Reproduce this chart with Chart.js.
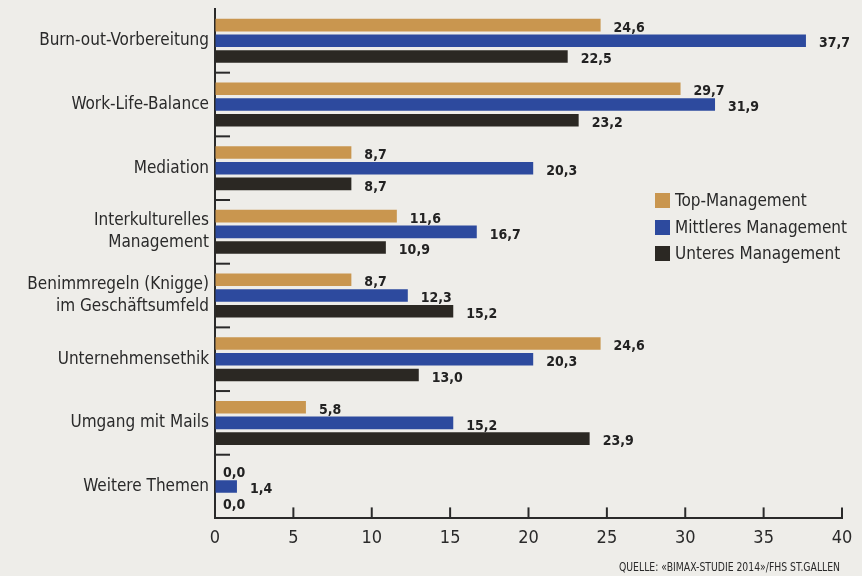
<!DOCTYPE html>
<html>
<head>
<meta charset="utf-8">
<script src="https://cdn.jsdelivr.net/npm/chart.js@4.4.1/dist/chart.umd.min.js"></script>
<style>
  html, body { margin: 0; padding: 0; background: #eeede9; }
  #wrap { position: relative; width: 862px; height: 576px; }
  #legend { position: absolute; left: 655px; top: 187px; font-family: "Liberation Sans Narrow", "DejaVu Sans Condensed", sans-serif; font-size: 17px; color: #2a2a2a; }
  #legend div { height: 26.5px; line-height: 26.5px; white-space: nowrap; }
  #legend span { display: inline-block; width: 15px; height: 15px; margin-right: 5px; vertical-align: -2px; }
  #source { position: absolute; right: 22px; top: 560px; font-family: "Liberation Sans Narrow", "DejaVu Sans Condensed", sans-serif; font-size: 12px; color: #2a2a2a; white-space: nowrap; transform: scaleX(0.86); transform-origin: right center; }
</style>
</head>
<body>
<div id="wrap">
  <canvas id="chart" width="862" height="576"></canvas>
  <div id="legend"></div>
  <div id="source">QUELLE: «BIMAX-STUDIE 2014»/FHS ST.GALLEN</div>
</div>
<script>
// data
const categories = [
  'Burn-out-Vorbereitung',
  'Work-Life-Balance',
  'Mediation',
  ['Interkulturelles', 'Management'],
  ['Benimmregeln (Knigge)', 'im Geschäftsumfeld'],
  'Unternehmensethik',
  'Umgang mit Mails',
  'Weitere Themen',
];
const seriesNames = ['Top-Management', 'Mittleres Management', 'Unteres Management'];
const topMgmt = [24.6, 29.7, 8.7, 11.6, 8.7, 24.6, 5.8, 0.0];
const midMgmt = [37.7, 31.9, 20.3, 16.7, 12.3, 20.3, 15.2, 1.4];
const lowMgmt = [22.5, 23.2, 8.7, 10.9, 15.2, 13.0, 23.9, 0.0];
const xTicks = [0, 5, 10, 15, 20, 25, 30, 35, 40];

const colors = ['#c9964f', '#2d4a9e', '#2b2823'];
const FONT = '"Liberation Sans Narrow", "DejaVu Sans Condensed", sans-serif';

const fmt = (v) => v.toFixed(1).replace('.', ',');

// value labels after bar ends
const valueLabels = {
  id: 'valueLabels',
  afterDatasetsDraw(chart) {
    const ctx = chart.ctx;
    ctx.save();
    ctx.font = 'bold 14px ' + FONT;
    ctx.fillStyle = '#222';
    ctx.textBaseline = 'middle';
    chart.data.datasets.forEach((ds, i) => {
      chart.getDatasetMeta(i).data.forEach((bar, j) => {
        const gap = ds.data[j] === 0 ? 8 : 13;
        ctx.fillText(fmt(ds.data[j]), bar.x + gap, bar.y + 3);
      });
    });
    ctx.restore();
  },
};

// short inner ticks on both axes
const innerTicks = {
  id: 'innerTicks',
  afterDraw(chart) {
    const ctx = chart.ctx;
    const x = chart.scales.x;
    const y = chart.scales.y;
    ctx.save();
    ctx.strokeStyle = '#2a2a2a';
    ctx.lineWidth = 2;
    for (let i = 1; i < categories.length; i++) {
      const py = (y.getPixelForTick(i - 1) + y.getPixelForTick(i)) / 2;
      ctx.beginPath();
      ctx.moveTo(x.left, py);
      ctx.lineTo(x.left + 15, py);
      ctx.stroke();
    }
    xTicks.forEach((t) => {
      if (t === 0) return;
      const px = x.getPixelForValue(t);
      ctx.beginPath();
      ctx.moveTo(px, y.bottom);
      ctx.lineTo(px, y.bottom - 11);
      ctx.stroke();
    });
    ctx.restore();
  },
};

const ctx = document.getElementById('chart');
const chart = new Chart(ctx, {
  type: 'bar',
  data: {
    labels: categories,
    datasets: [topMgmt, midMgmt, lowMgmt].map((d, i) => ({
      label: seriesNames[i],
      data: d,
      backgroundColor: colors[i],
      categoryPercentage: 0.74,
      barPercentage: 0.8,
    })),
  },
  options: {
    indexAxis: 'y',
    responsive: false,
    animation: false,
    layout: { padding: { top: 9, right: 20, bottom: 18, left: 0 } },
    plugins: {
      legend: { display: false },
      tooltip: { enabled: false },
    },
    scales: {
      x: {
        min: 0,
        max: 40,
        afterBuildTicks: (s) => { s.ticks = xTicks.map((v) => ({ value: v })); },
        grid: { drawOnChartArea: false, drawTicks: false },
        border: { color: '#2a2a2a', width: 2 },
        ticks: { padding: 9, color: '#2a2a2a', font: { family: FONT, size: 18 } },
      },
      y: {
        afterFit: (s) => { s.width = 215; s.paddingTop = 0; s.paddingBottom = 0; },
        grid: { drawOnChartArea: false, drawTicks: false },
        border: { color: '#2a2a2a', width: 2 },
        ticks: { padding: 6, color: '#2a2a2a', font: { family: FONT, size: 17, lineHeight: 1.3 } },
      },
    },
  },
  plugins: [valueLabels, innerTicks],
});

// legend
document.getElementById('legend').innerHTML = seriesNames
  .map((n, i) => `<div><span style="background:${colors[i]}"></span>${n}</div>`)
  .join('');
</script>
</body>
</html>
